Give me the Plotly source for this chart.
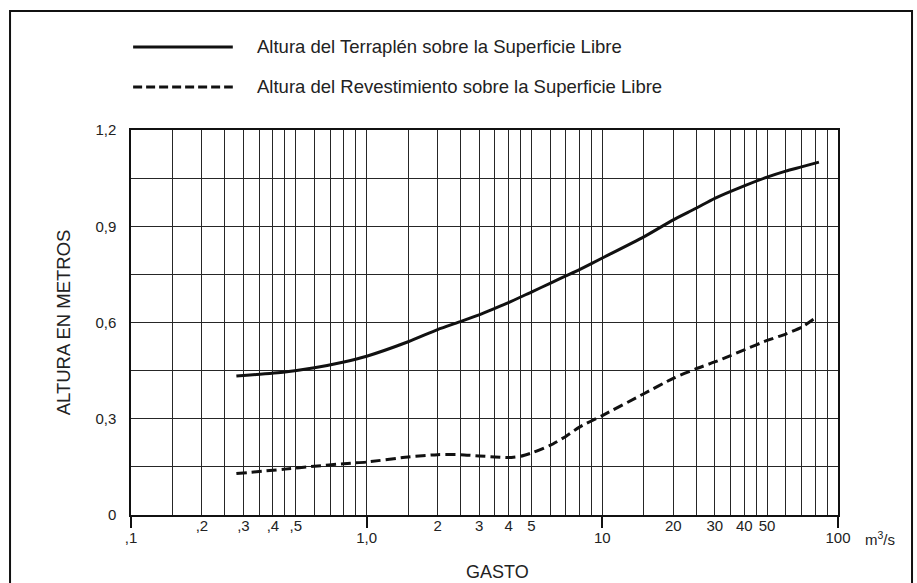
import plotly.graph_objects as go

q_terraplen = [0.28, 0.45, 0.6, 0.8, 1.0, 1.5, 2, 2.5, 3, 3.5, 4, 5, 6, 7, 8, 10,
               15, 20, 25, 30, 40, 50, 60, 70, 83]
h_terraplen = [0.433, 0.446, 0.459, 0.477, 0.495, 0.540, 0.578, 0.603, 0.624, 0.644,
               0.662, 0.695, 0.722, 0.745, 0.765, 0.801, 0.867, 0.920, 0.956, 0.987,
               1.026, 1.053, 1.072, 1.085, 1.100]

q_revest = [0.28, 0.45, 0.6, 0.8, 1.0, 1.5, 2, 2.5, 3, 3.5, 4, 4.5, 5, 6, 7, 8, 10,
            15, 20, 25, 30, 35, 40, 50, 60, 70, 80]
h_revest = [0.129, 0.143, 0.152, 0.160, 0.165, 0.181, 0.188, 0.188, 0.184, 0.181,
            0.179, 0.183, 0.193, 0.217, 0.245, 0.274, 0.310, 0.378, 0.426, 0.456,
            0.477, 0.497, 0.515, 0.544, 0.564, 0.585, 0.614]

serie_terraplen = "Altura del Terraplén sobre la Superficie Libre"
serie_revest = "Altura del Revestimiento sobre la Superficie Libre"

# Etiquetas del eje X: décadas (más abajo) e intermedias
x_decadas = [0.1, 1, 10, 100]
x_decadas_txt = [",1", "1,0", "10", "100"]
x_intermedias = [0.2, 0.3, 0.4, 0.5, 2, 3, 4, 5, 20, 30, 40, 50]
x_intermedias_txt = [",2", ",3", ",4", ",5", "2", "3", "4", "5", "20", "30", "40", "50"]

# Retícula logarítmica: divisiones por década
divisiones = [1, 1.5, 2, 2.5, 3, 3.5, 4, 4.5, 5, 6, 7, 8, 9]
reticula_x = [d * m for d in (0.1, 1, 10) for m in divisiones] + [100]

# Eje Y: etiquetas cada 0,3 y retícula cada 0,15
y_ticks = [0, 0.3, 0.6, 0.9, 1.2]
y_ticks_txt = ["0", "0,3", "0,6", "0,9", "1,2"]
reticula_y = [0.15, 0.45, 0.75, 1.05]

FONT = "Liberation Sans, Arial, sans-serif"
INK = "#222222"
GRID = "#262626"

fig = go.Figure()
fig.add_trace(go.Scatter(
    x=q_terraplen, y=h_terraplen, mode="lines", name=serie_terraplen,
    line=dict(color="#111111", width=3, shape="spline", smoothing=0.6),
    showlegend=False,
))
fig.add_trace(go.Scatter(
    x=q_revest, y=h_revest, mode="lines", name=serie_revest, xaxis="x2",
    line=dict(color="#111111", width=3, dash="10px,5px", shape="spline", smoothing=0.6),
    showlegend=False,
))

# Leyenda dibujada con muestras de línea largas
leyenda = [(1.2156, "solid", serie_terraplen), (1.1117, "9px,4px", serie_revest)]
for yy, dash, texto in leyenda:
    fig.add_shape(type="line", xref="paper", yref="paper",
                  x0=0.003, x1=0.144, y0=yy, y1=yy,
                  line=dict(color="#111111", width=3, dash=dash))
    fig.add_annotation(xref="paper", yref="paper", x=0.1754, y=yy, text=texto,
                       showarrow=False, xanchor="left", yanchor="middle",
                       font=dict(family=FONT, size=18.5, color=INK))

# Marco exterior
fig.add_shape(type="rect", xref="paper", yref="paper",
              x0=-0.1711, x1=1.1047, y0=-0.24, y1=1.309,
              line=dict(color="#111111", width=2), layer="below")

fig.add_annotation(xref="paper", yref="paper", x=0.518, y=-0.148, text="GASTO",
                   showarrow=False, xanchor="center", yanchor="middle",
                   font=dict(family=FONT, size=18, color=INK))
fig.add_annotation(xref="paper", yref="paper", x=1.0594, y=-0.062, text="m<sup>3</sup>/s",
                   showarrow=False, xanchor="center", yanchor="middle",
                   font=dict(family=FONT, size=15, color=INK))

fig.update_layout(
    width=917, height=583,
    margin=dict(l=131, r=79, t=130, b=68),
    paper_bgcolor="white", plot_bgcolor="white",
    font=dict(family=FONT, color=INK),
    xaxis=dict(
        type="log", range=[-1, 2],
        tickmode="array", tickvals=x_decadas, ticktext=x_decadas_txt,
        ticks="outside", ticklen=11, tickwidth=1.5, tickcolor="#111111",
        tickfont=dict(size=15, color=INK), ticklabelstandoff=-3,
        showgrid=True, gridcolor=GRID, gridwidth=1.3,
        minor=dict(tickmode="array", tickvals=reticula_x, showgrid=True,
                   gridcolor=GRID, gridwidth=1.3, ticks=""),
        showline=True, mirror=True, linecolor="#111111", linewidth=1.5,
        zeroline=False,
    ),
    xaxis2=dict(
        type="log", range=[-1, 2], overlaying="x", anchor="y", side="bottom",
        tickmode="array", tickvals=x_intermedias, ticktext=x_intermedias_txt,
        ticks="", tickfont=dict(size=15, color=INK), showgrid=False,
        showline=False, zeroline=False,
    ),
    yaxis=dict(
        range=[0, 1.2], tickmode="array", tickvals=y_ticks, ticktext=y_ticks_txt,
        ticks="", tickfont=dict(size=15, color=INK), ticklabelstandoff=10,
        showgrid=True, gridcolor=GRID, gridwidth=1.3,
        minor=dict(tickmode="array", tickvals=reticula_y, showgrid=True,
                   gridcolor=GRID, gridwidth=1.3, ticks=""),
        showline=True, mirror=True, linecolor="#111111", linewidth=1.5,
        zeroline=False,
        title=dict(text="ALTURA EN METROS", font=dict(family=FONT, size=18.5, color=INK),
                   standoff=20),
    ),
)

fig.write_html("out.html")
